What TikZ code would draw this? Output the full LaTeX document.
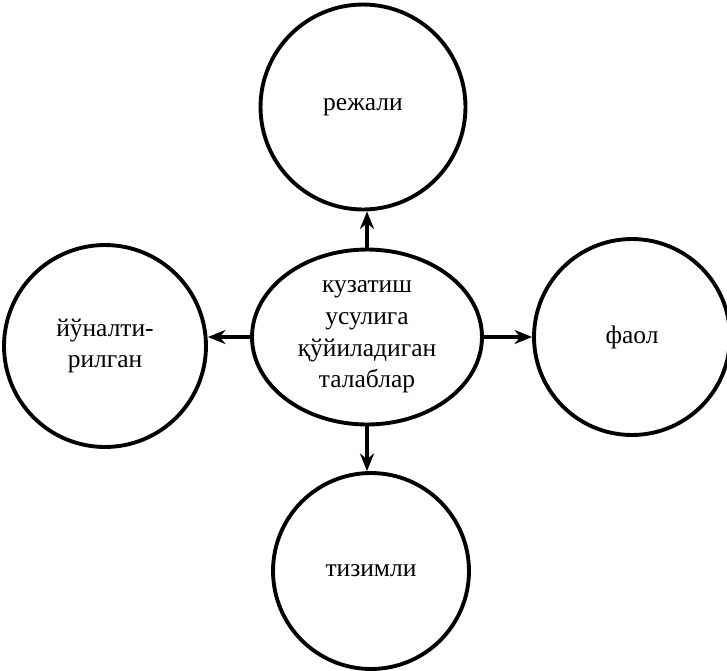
\documentclass[tikz,border=0pt]{standalone}
\usepackage{fontspec}
\setmainfont{Liberation Serif}
\usetikzlibrary{shapes.geometric,arrows.meta}
\tikzset{>={Stealth[length=10pt,width=8pt]}}

\begin{document}
\begin{tikzpicture}[x=0.02cm,y=-0.02cm,
  bubble/.style={draw,circle,line width=2.2pt,inner sep=0pt,align=center,
    font=\fontsize{14.5}{18}\selectfont},
  link/.style={->,line width=1.8pt}]
% One unit is one pixel of the scan
\useasboundingbox (0,0) rectangle (727,670);

% Centre of each shape
\coordinate (C) at (367,337);
\coordinate (N) at (363,107);
\coordinate (W) at (105,346);
\coordinate (E) at (632,337);
\coordinate (S) at (371,571);

% Central ellipse
\node[bubble,ellipse,minimum width=4.6cm,minimum height=3.5cm] (req) at (C)
  {кузатиш\\усулига\\қўйиладиган\\талаблар};

% Outer circles
\node[bubble,minimum size=4.1cm] (plan) at (N) {режали};
\node[bubble,minimum size=4.04cm] (dir) at (W) {йўналти-\\рилган};
\node[bubble,minimum size=3.92cm] (act) at (E) {фаол};
\node[bubble,minimum size=3.92cm] (sys) at (S) {тизимли};

% Arrows from the centre, kept straight
\draw[link] (req.north) -- (req.north |- plan.south);
\draw[link] (req.west) -- (req.west -| dir.east);
\draw[link] (req.east) -- (req.east -| act.west);
\draw[link] (req.south) -- (req.south |- sys.north);
\end{tikzpicture}
\end{document}
